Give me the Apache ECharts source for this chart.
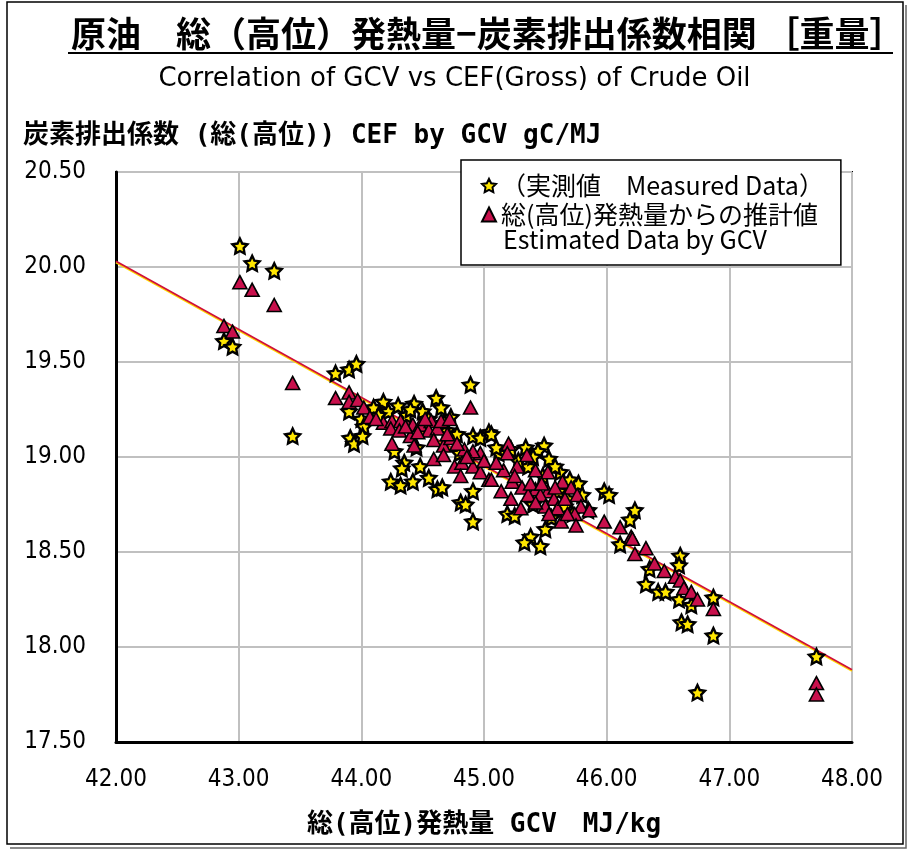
<!DOCTYPE html>
<html>
<head>
<meta charset="utf-8">
<script src="https://cdn.jsdelivr.net/npm/echarts@6/dist/echarts.min.js"></script>
<style>
  html, body { margin: 0; padding: 0; background: #ffffff; }
  #chart { width: 909px; height: 854px; }
</style>
</head>
<body>
<div id="chart"></div>
<script>
// 原油の総(高位)発熱量 [MJ/kg] と炭素排出係数 [gC/MJ]
const measuredGcv = [
  43.01, 43.11, 43.29, 42.88, 42.95, 43.44, 43.79, 43.90, 43.96, 44.89,
  44.61, 44.18, 44.43, 43.90, 44.65, 44.73, 44.00, 44.02, 43.91, 43.94,
  44.01, 44.27, 44.35, 44.33, 44.48, 44.24, 44.32, 44.42, 44.55, 44.62,
  44.66, 44.91, 44.81, 44.85, 44.91, 44.91, 44.97, 45.04, 45.06, 45.34,
  45.49, 45.44, 45.53, 45.36, 45.62, 45.77, 45.61, 45.40, 45.19, 45.25,
  45.98, 46.02, 46.23, 46.19, 45.50, 45.38, 45.33, 45.46, 46.11, 46.60,
  46.59, 46.35, 46.32, 46.42, 46.48, 46.59, 46.69, 46.87, 46.61, 46.66,
  46.87, 47.71, 46.74, 44.10, 44.22, 44.30, 44.37, 44.50, 44.55, 44.70,
  44.78, 44.45, 44.80, 45.12, 45.28, 45.48, 45.68, 45.72, 45.85, 45.55,
  44.14, 44.40, 44.68, 45.10, 45.22, 45.40, 45.58, 45.70, 45.80, 45.66
];
const measuredCef = [
  20.11, 20.02, 19.98, 19.61, 19.58, 19.11, 19.44, 19.46, 19.49, 19.38,
  19.31, 19.29, 19.28, 19.24, 19.26, 19.21, 19.20, 19.16, 19.10, 19.07,
  19.11, 19.03, 18.97, 18.94, 18.95, 18.87, 18.85, 18.87, 18.89, 18.83,
  18.84, 18.82, 18.76, 18.75, 18.66, 19.11, 19.10, 19.13, 19.12, 19.05,
  19.06, 19.03, 18.99, 18.95, 18.92, 18.86, 18.82, 18.75, 18.70, 18.69,
  18.82, 18.80, 18.72, 18.67, 18.62, 18.58, 18.55, 18.53, 18.54, 18.48,
  18.43, 18.41, 18.33, 18.29, 18.29, 18.25, 18.22, 18.26, 18.13, 18.12,
  18.06, 17.95, 17.76, 19.26, 19.24, 19.27, 19.22, 19.24, 19.20, 19.14,
  19.12, 19.05, 19.02, 19.02, 18.98, 18.90, 18.78, 18.70, 18.72, 18.68,
  19.22, 19.25, 19.18, 19.05, 19.04, 19.00, 18.95, 18.88, 18.80, 18.74
];
const estimatedGcv = [
  43.01, 43.11, 43.29, 42.88, 42.95, 43.44, 43.79, 43.90, 43.90, 43.97,
  44.02, 44.07, 44.89, 44.18, 44.25, 44.32, 44.42, 44.48, 44.57, 44.24,
  44.31, 44.40, 44.55, 44.62, 44.65, 44.72, 44.25, 44.43, 44.59, 44.67,
  44.73, 44.59, 44.67, 44.76, 44.82, 44.91, 44.97, 44.91, 44.81, 44.97,
  45.04, 44.84, 44.78, 45.20, 45.19, 45.35, 45.27, 45.42, 45.52, 45.16,
  45.23, 45.06, 45.31, 45.42, 45.52, 45.64, 45.71, 45.14, 45.22, 45.36,
  45.46, 45.57, 45.76, 45.30, 45.50, 45.60, 45.79, 45.86, 45.53, 45.63,
  45.74, 45.75, 45.98, 46.11, 46.20, 46.21, 46.23, 46.32, 46.39, 46.47,
  46.56, 46.60, 46.63, 46.69, 46.74, 46.87, 47.71, 47.71, 44.12, 44.36,
  44.46, 44.52, 44.70, 44.86, 45.00, 45.10, 45.25, 45.38, 45.47, 45.58,
  45.66, 45.42, 45.68
];
const estimatedCef = [
  19.92, 19.88, 19.80, 19.69, 19.66, 19.39, 19.31, 19.34, 19.29, 19.30,
  19.26, 19.21, 19.26, 19.18, 19.19, 19.19, 19.17, 19.17, 19.19, 19.15,
  19.14, 19.11, 19.14, 19.15, 19.19, 19.20, 19.07, 19.06, 19.09, 19.06,
  19.10, 18.99, 19.01, 18.95, 18.97, 18.95, 19.02, 19.03, 18.90, 18.92,
  18.88, 19.04, 19.07, 19.07, 19.02, 19.01, 18.95, 18.93, 18.92, 18.93,
  18.87, 18.88, 18.84, 18.83, 18.82, 18.87, 18.84, 18.82, 18.78, 18.80,
  18.80, 18.78, 18.80, 18.73, 18.74, 18.73, 18.74, 18.72, 18.70, 18.66,
  18.70, 18.64, 18.66, 18.63, 18.58, 18.57, 18.49, 18.52, 18.44, 18.40,
  18.37, 18.35, 18.31, 18.29, 18.25, 18.20, 17.81, 17.75, 19.20, 19.16,
  19.13, 19.20, 19.12, 19.00, 18.98, 18.97, 18.90, 18.86, 18.86, 18.84,
  18.78, 18.76, 18.70
];

// 近似直線（実測値・推計値）の両端
const trendGcv = [42.0, 48.0];
const trendMeasured = [20.024, 17.874];
const trendEstimated = [20.03, 17.88];

// 軸目盛
const xTicks = [42, 43, 44, 45, 46, 47, 48];
const yTicks = [17.5, 18.0, 18.5, 19.0, 19.5, 20.0, 20.5];

const zip = (xs, ys) => xs.map((x, i) => [x, ys[i]]);

// 五芒星のシンボル形状
function starPath(inner) {
  const pts = [];
  for (let k = 0; k < 10; k++) {
    const r = k % 2 === 0 ? 1 : inner;
    const a = -Math.PI / 2 + k * Math.PI / 5;
    pts.push((r * Math.cos(a)).toFixed(4) + ' ' + (r * Math.sin(a)).toFixed(4));
  }
  return 'path://M' + pts.join(' L') + ' Z';
}
const STAR = starPath(0.5);

const CJK = '"Noto Sans CJK JP", sans-serif';
const MONO_CJK = '"DejaVu Sans Mono", "Noto Sans CJK JP", monospace';
const NUM = '"DejaVu Sans Condensed", "DejaVu Sans", sans-serif';

const chart = echarts.init(document.getElementById('chart'), null, { renderer: 'canvas' });

chart.setOption({
  backgroundColor: '#ffffff',
  animation: false,
  title: [
    {
      text: '原油　総（高位）発熱量−炭素排出係数相関 ［重量］',
      left: 66, top: 11,
      textStyle: { fontFamily: CJK, fontSize: 35, fontWeight: 'bold', color: '#000' }
    },
    {
      text: 'Correlation of GCV vs CEF(Gross) of Crude Oil',
      left: 'center', top: 61,
      textStyle: { fontFamily: '"DejaVu Sans", sans-serif', fontSize: 26, fontWeight: 'normal', color: '#000' }
    },
    {
      text: '炭素排出係数 (総(高位)) CEF by GCV gC/MJ',
      left: 18, top: 118,
      textStyle: { fontFamily: MONO_CJK, fontSize: 26, fontWeight: 'bold', color: '#000' }
    }
  ],
  grid: {
    left: 116, right: 57, top: 172, bottom: 112,
    show: true, borderColor: '#000', borderWidth: 2, backgroundColor: '#fff'
  },
  legend: {
    orient: 'vertical',
    left: 461, top: 160,
    z: 10,
    backgroundColor: '#ffffff',
    borderColor: '#000', borderWidth: 1.5,
    padding: [13, 17, 38, 20],
    itemGap: 4,
    itemWidth: 14, itemHeight: 14,
    textStyle: { fontFamily: CJK, fontSize: 25, color: '#000' },
    data: [
      { name: '（実測値　Measured Data）', icon: STAR },
      { name: '総(高位)発熱量からの推計値', icon: 'triangle' }
    ]
  },
  graphic: [
    {
      type: 'text', left: 503, top: 227, z: 20,
      style: { text: 'Estimated Data by GCV', font: '25px ' + CJK, fill: '#000' }
    },
    {
      type: 'line', z: 5,
      shape: { x1: 68, y1: 53, x2: 893, y2: 53 },
      style: { stroke: '#000', lineWidth: 2 }
    },
    {
      type: 'rect', z: -1, silent: true,
      shape: { x: 7, y: 2, width: 896, height: 842 },
      style: { fill: 'none', stroke: '#000', lineWidth: 1.5 }
    },
    {
      type: 'polyline', z: -1, silent: true,
      shape: { points: [[10, 848], [906, 848], [906, 5]] },
      style: { fill: 'none', stroke: '#666', lineWidth: 1.5 }
    }
  ],
  xAxis: {
    type: 'value',
    min: xTicks[0], max: xTicks[xTicks.length - 1], interval: 1,
    name: '総(高位)発熱量 GCV　MJ/kg',
    nameLocation: 'middle', nameGap: 70,
    nameTextStyle: { fontFamily: MONO_CJK, fontSize: 26, fontWeight: 'bold', color: '#000' },
    axisLine: { show: true, lineStyle: { color: '#000', width: 3 } },
    axisTick: { show: false },
    axisLabel: { margin: 26, fontFamily: NUM, fontSize: 24, color: '#000',
                 formatter: v => v.toFixed(2) },
    splitLine: { show: true, lineStyle: { color: '#c0c0c0', width: 2 } }
  },
  yAxis: {
    type: 'value',
    min: yTicks[0], max: yTicks[yTicks.length - 1], interval: 0.5,
    axisLine: { show: true, lineStyle: { color: '#000', width: 3 } },
    axisTick: { show: false },
    axisLabel: { margin: 30, fontFamily: NUM, fontSize: 24, color: '#000',
                 formatter: v => v.toFixed(2) },
    splitLine: { show: true, lineStyle: { color: '#c0c0c0', width: 2 } }
  },
  series: [
    {
      name: 'trend-measured', type: 'line', z: 1,
      data: zip(trendGcv, trendMeasured),
      symbol: 'none', lineStyle: { color: '#ffd800', width: 2 }, silent: true
    },
    {
      name: 'trend-estimated', type: 'line', z: 2,
      data: zip(trendGcv, trendEstimated),
      symbol: 'none', lineStyle: { color: '#d0103a', width: 1.8 }, silent: true
    },
    {
      name: '（実測値　Measured Data）', type: 'scatter', z: 3,
      symbol: STAR, symbolSize: 15,
      itemStyle: { color: '#ffe600', borderColor: '#000', borderWidth: 2.4, opacity: 1 },
      data: zip(measuredGcv, measuredCef)
    },
    {
      name: '総(高位)発熱量からの推計値', type: 'scatter', z: 4,
      symbol: 'triangle', symbolSize: [14, 13],
      itemStyle: { color: '#c8104c', borderColor: '#000', borderWidth: 1.6, opacity: 1 },
      data: zip(estimatedGcv, estimatedCef)
    }
  ]
});
</script>
</body>
</html>
